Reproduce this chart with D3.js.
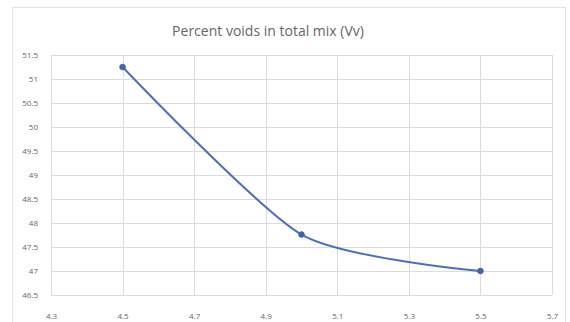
<!DOCTYPE html>
<html>
<head>
<meta charset="utf-8">
<script src="https://cdn.jsdelivr.net/npm/d3@7"></script>
<style>
  body { margin: 0; background: #fff; }
  svg { display: block; font-family: "Open Sans", Calibri, sans-serif; }
</style>
</head>
<body>
<svg id="chart"></svg>
<script>
// values
const xValues = [4.5, 5.0, 5.5];
const vvValues = [51.25, 47.76, 47.0];
const xTicks = [4.3, 4.5, 4.7, 4.9, 5.1, 5.3, 5.5, 5.7];
const yTicks = [46.5, 47, 47.5, 48, 48.5, 49, 49.5, 50, 50.5, 51, 51.5];
const title = "Percent voids in total mix (Vv)";

const width = 570, height = 322;
const margin = { top: 55, right: 18, bottom: 27, left: 51 };

const svg = d3.select("#chart").attr("width", width).attr("height", height);

// chart frame
svg.append("rect")
  .attr("x", 12.5).attr("y", 7.5)
  .attr("width", 553).attr("height", 320)
  .attr("fill", "#fff")
  .attr("stroke", "#e3e3e3");

var x = d3.scaleLinear()
  .domain([4.3, 5.7])
  .range([margin.left, width - margin.right]);

var y = d3.scaleLinear()
  .domain([46.5, 51.5])
  .range([height - margin.bottom, margin.top]);

// gridlines
svg.append("g")
  .selectAll("line.h")
  .data(yTicks)
  .join("line")
  .attr("x1", x(4.3)).attr("x2", x(5.7))
  .attr("y1", d => Math.round(y(d)) + 0.5)
  .attr("y2", d => Math.round(y(d)) + 0.5)
  .attr("stroke", "#dcdcdc");

svg.append("g")
  .selectAll("line.v")
  .data(xTicks)
  .join("line")
  .attr("y1", y(46.5)).attr("y2", y(51.5))
  .attr("x1", d => Math.round(x(d)) + 0.5)
  .attr("x2", d => Math.round(x(d)) + 0.5)
  .attr("stroke", "#dcdcdc");

// axes, drawn with d3 then stripped of domain/tick lines
let yAxis = svg.append("g")
  .attr("transform", "translate(" + (margin.left - 10) + ",0)")
  .call(d3.axisLeft(y).tickValues(yTicks).tickSize(0).tickFormat(d3.format("")));
let xAxis = svg.append("g")
  .attr("transform", "translate(0," + (height - margin.bottom + 15) + ")")
  .call(d3.axisBottom(x).tickValues(xTicks).tickSize(0).tickFormat(d3.format(".1f")));

[yAxis, xAxis].forEach(a => {
  a.select(".domain").remove();
  a.selectAll("text")
    .attr("fill", "#666")
    .style("font-size", "8px")
    .style("font-family", "Open Sans, sans-serif");
});

// title
svg.append("text")
  .attr("x", 268).attr("y", 32)
  .attr("text-anchor", "middle")
  .attr("dominant-baseline", "middle")
  .attr("fill", "#666")
  .style("font-size", "14px")
  .text(title);

// smoothed series line (Excel-like smoothing)
const points = xValues.map((v, i) => [v, vvValues[i]]);

svg.append("path")
  .datum(points)
  .attr("fill", "none")
  .attr("stroke", "#4a6fc0")
  .attr("stroke-width", 2)
  .attr("d", d3.line()
    .x(d => x(d[0]))
    .y(d => y(d[1]))
    .curve(d3.curveCardinal.tension(0.3)));

svg.append("g")
  .selectAll("circle")
  .data(points)
  .join("circle")
  .attr("cx", d => x(d[0]))
  .attr("cy", d => y(d[1]))
  .attr("r", 2.8)
  .attr("fill", "#3f63b0")
  .attr("stroke", "#3f63b0");
</script>
</body>
</html>
